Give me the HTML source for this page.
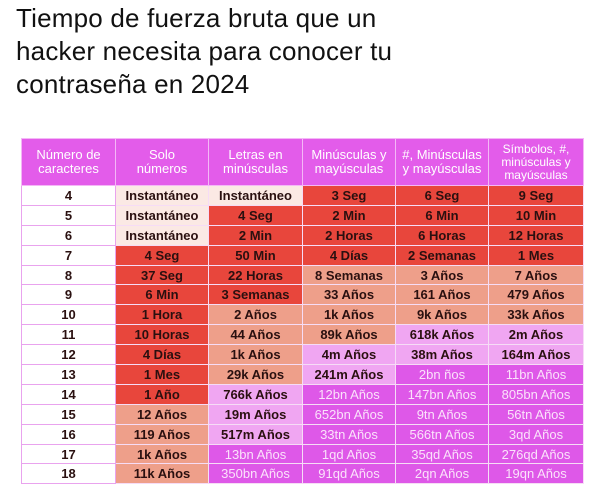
<!DOCTYPE html>
<html><head><meta charset="utf-8"><style>
body{margin:0;width:600px;height:497px;background:#fff;font-family:"Liberation Sans","DejaVu Sans",sans-serif;overflow:hidden;position:relative}
h1{position:absolute;left:16px;top:2px;margin:0;font-weight:400;font-size:26px;line-height:33px;color:#111;letter-spacing:0.2px}
table{position:absolute;left:21px;top:138px;border-collapse:collapse;table-layout:fixed}
th{background:#e35cea;color:#fff;font-weight:400;font-size:13px;line-height:14px;height:46px;border:1px solid #f4b7f6;padding:0}
td{height:18.9px;padding:0;text-align:center;font-size:13px;font-weight:700;color:#2a1010;border:1px solid #f6dcf6}
td.n{background:#fff;border-color:#e9a3ee}
.l0{background:#fbe9e4}.l1{background:#e8463c}.l2{background:#ee9f8a}.l3{background:#f0a6f2}.l4{background:#de58e8;color:#fbe2fb;font-weight:400}
</style></head><body>
<h1>Tiempo de fuerza bruta que un<br>hacker necesita para conocer tu<br>contraseña en 2024</h1>
<table>
<colgroup><col style="width:94px"><col style="width:93px"><col style="width:94px"><col style="width:93px"><col style="width:93px"><col style="width:95px"></colgroup>
<thead><tr>
<th>Número de<br>caracteres</th>
<th>Solo<br>números</th>
<th>Letras en<br>minúsculas</th>
<th>Minúsculas y<br>mayúsculas</th>
<th>#, Minúsculas<br>y mayúsculas</th>
<th style="font-size:12px;line-height:13px">Símbolos, #,<br>minúsculas y<br>mayúsculas</th>
</tr></thead>
<tbody id="tb"></tbody></table>
<script>
const chars=[4,5,6,7,8,9,10,11,12,13,14,15,16,17,18];
const times=[
["Instantáneo","Instantáneo","3 Seg","6 Seg","9 Seg"],
["Instantáneo","4 Seg","2 Min","6 Min","10 Min"],
["Instantáneo","2 Min","2 Horas","6 Horas","12 Horas"],
["4 Seg","50 Min","4 Días","2 Semanas","1 Mes"],
["37 Seg","22 Horas","8 Semanas","3 Años","7 Años"],
["6 Min","3 Semanas","33 Años","161 Años","479 Años"],
["1 Hora","2 Años","1k Años","9k Años","33k Años"],
["10 Horas","44 Años","89k Años","618k Años","2m Años"],
["4 Días","1k Años","4m Años","38m Años","164m Años"],
["1 Mes","29k Años","241m Años","2bn ños","11bn Años"],
["1 Año","766k Años","12bn Años","147bn Años","805bn Años"],
["12 Años","19m Años","652bn Años","9tn Años","56tn Años"],
["119 Años","517m Años","33tn Años","566tn Años","3qd Años"],
["1k Años","13bn Años","1qd Años","35qd Años","276qd Años"],
["11k Años","350bn Años","91qd Años","2qn Años","19qn Años"]];
const levels=[
[0,0,1,1,1],[0,1,1,1,1],[0,1,1,1,1],[1,1,1,1,1],[1,1,2,2,2],[1,1,2,2,2],[1,2,2,2,2],
[1,2,2,3,3],[1,2,3,3,3],[1,2,3,4,4],[1,3,4,4,4],[2,3,4,4,4],[2,3,4,4,4],[2,4,4,4,4],[2,4,4,4,4]];
const tb=document.getElementById('tb');
chars.forEach((c,i)=>{
  const tr=document.createElement('tr');
  
  
  const td=document.createElement('td');td.className='n';td.textContent=c;
  
  
  tr.appendChild(td);
  times[i].forEach((t,j)=>{
    const d=document.createElement('td');d.className='l'+levels[i][j];d.textContent=t;
    
    
    tr.appendChild(d);
  });
  tb.appendChild(tr);
});
</script>
</body></html>
